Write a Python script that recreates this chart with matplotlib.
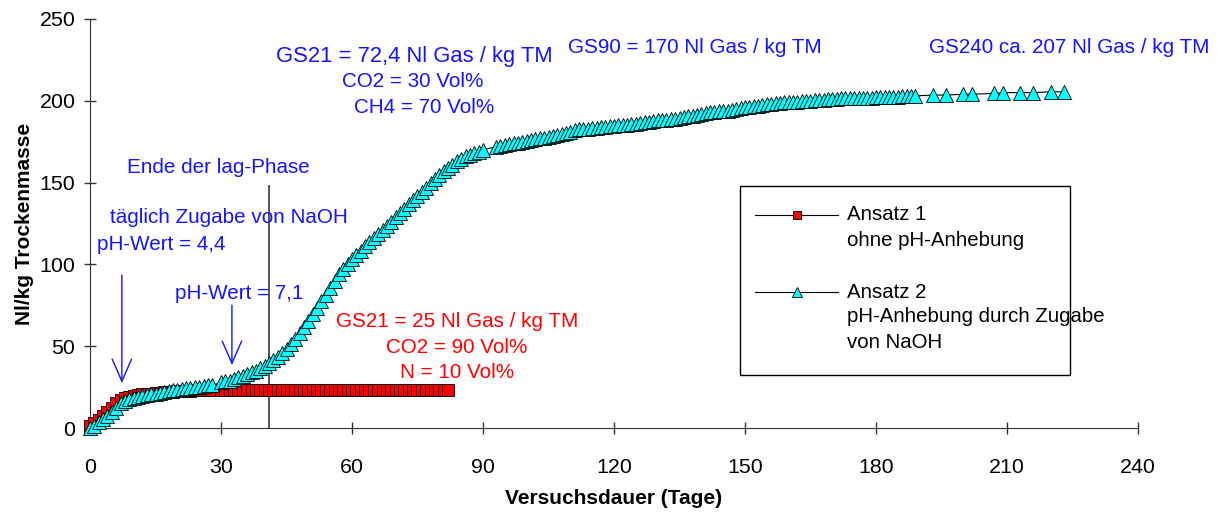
import matplotlib.pyplot as plt
from matplotlib.lines import Line2D
from matplotlib.patches import Rectangle

plt.rcParams['font.family'] = ['Liberation Sans', 'DejaVu Sans']

# Ansatz 1 (ohne pH-Anhebung)
ansatz1_days = list(range(0, 29)) + list(range(30, 83))
ansatz1_vals = [1, 3, 5, 7.5, 10, 12.5, 15, 17, 18.5, 19,
                19.5, 20, 20.5, 21, 21, 21.5, 21.5, 22, 22, 22,
                22.5, 22.5, 22.5, 22.5, 23, 23, 23, 23, 23,
                23.3, 23.3, 23.3, 23.3, 23.3, 23.3, 23.3, 23.3, 23.3, 23.3,
                23.3, 23.3, 23.3, 23.3, 23.3, 23.3, 23.3, 23.3, 23.3, 23.3,
                23.3, 23.3, 23.3, 23.3, 23.3, 23.3, 23.3, 23.3, 23.3, 23.3,
                23.3, 23.3, 23.3, 23.3, 23.3, 23.3, 23.3, 23.3, 23.3, 23.3,
                23.3, 23.3, 23.3, 23.3, 23.3, 23.3, 23.3, 23.3, 23.3, 23.3,
                23.3, 23.3, 23.3]

# Ansatz 2 (pH-Anhebung durch Zugabe von NaOH)
ansatz2_days = (list(range(0, 29)) + list(range(30, 91)) + list(range(93, 190))
                + [193, 196, 200, 202, 207, 209, 213, 216, 220, 223])
ansatz2_vals = [0, 1.5, 3.5, 5.5, 7.5, 10, 12.5, 15, 16.5, 17.5,
                18.5, 19, 19.5, 20, 20.5, 21, 21.5, 22, 22.5, 23,
                23.5, 24, 24.5, 24.5, 25, 25, 25.5, 26, 26,
                28, 28.5, 29, 30, 31, 32, 33, 34, 35, 36.5,
                38, 39.5, 41.5, 43.5, 46, 48.5, 51.5, 54.5, 58, 61.5,
                65.5, 69.5, 73.5, 77.5, 81.5, 85.5, 90, 94, 97, 100,
                103, 105.5, 108, 111, 113.5, 116, 118.5, 121, 123.5, 126,
                129, 131.5, 134, 137, 139.5, 142, 144.5, 147, 149.5, 152,
                154.5, 157, 159, 161, 163, 164.5, 166, 167, 168, 169,
                170,
                172, 172.5, 173, 173.5, 174, 174.5, 175, 175.5, 176, 176.5,
                177, 177.5, 178, 178.5, 179, 179.5, 180.5, 181, 182, 182.5,
                183, 183, 183.5, 183.5, 184, 184, 184.5, 184.5, 185, 185,
                185.5, 186, 186, 186.5, 187, 187, 187.5, 188, 188, 188.5,
                189, 189, 189.5, 190, 190.5, 191, 191.5, 192, 192.5, 193,
                193, 193.5, 193.5, 194, 194.5, 195, 195.5, 196, 196.5, 197,
                197, 197.5, 198, 198, 198.5, 198.5, 199, 199, 199.5, 199.5,
                200, 200, 200, 200.5, 200.5, 200.5, 201, 201, 201, 201.5,
                201.5, 201.5, 202, 202, 202, 202, 202, 202.5, 202.5, 202.5,
                202.5, 202.5, 202.5, 203, 203, 203, 203,
                203.5, 203.5, 204, 204, 204.5, 205, 205, 205, 205.5, 205.5]

x_ticks = [0, 30, 60, 90, 120, 150, 180, 210, 240]
y_ticks = [0, 50, 100, 150, 200, 250]

BLUE = '#1414ff'
RED = '#ff0000'
CYAN = '#00ffff'
FS = 14.9      # annotations
FS_BIG = 15.8  # GS21 line of Ansatz 2
FS_TICK = 15.4
FS_LAB = 15
FS_LEG = 14.7

fig = plt.figure(figsize=(12.25, 5.13), dpi=100)
ax = fig.add_axes([90 / 1225, 1 - 428 / 513, 1048 / 1225, 409 / 513])

ax.plot(ansatz1_days, ansatz1_vals, color='black', lw=0.8, marker='s', ms=8,
        mfc=RED, mec='black', mew=0.6, clip_on=False, zorder=3)
ax.plot(ansatz2_days, ansatz2_vals, color='black', lw=0.8, marker='^', ms=10.5,
        mfc=CYAN, mec='black', mew=0.6, clip_on=False, zorder=4)

# Ende der lag-Phase
ax.plot([41, 41], [0, 148], color='#555555', lw=1.4, zorder=2)

ax.set_xlim(0, 240)
ax.set_ylim(0, 250)
ax.set_xticks(x_ticks)
ax.set_yticks(y_ticks)
ax.spines['right'].set_visible(False)
ax.spines['top'].set_visible(False)
ax.spines['left'].set_color('#333333')
ax.spines['bottom'].set_color('#333333')
ax.tick_params(axis='both', direction='inout', length=9, width=1,
               color='#333333', labelsize=FS_TICK)
ax.tick_params(axis='x', pad=17)
ax.tick_params(axis='y', pad=6)

ax.set_xlabel('Versuchsdauer (Tage)', fontsize=FS_LAB, fontweight='bold', labelpad=9)
ax.set_ylabel('Nl/kg Trockenmasse', fontsize=FS_LAB, fontweight='bold', labelpad=4)

# blue annotations
ax.text(74.3, 226.8, 'GS21 = 72,4 Nl Gas / kg TM', color=BLUE, fontsize=FS_BIG,
        ha='center', va='center')
ax.text(74.0, 211.5, 'CO2 = 30 Vol%', color=BLUE, fontsize=FS,
        ha='center', va='center')
ax.text(76.5, 196.2, 'CH4 = 70 Vol%', color=BLUE, fontsize=FS,
        ha='center', va='center')
ax.text(138.5, 232.3, 'GS90 = 170 Nl Gas / kg TM', color=BLUE, fontsize=FS,
        ha='center', va='center')
ax.text(224.2, 232.3, 'GS240 ca. 207 Nl Gas / kg TM', color=BLUE, fontsize=FS,
        ha='center', va='center', clip_on=False)
ax.text(29.5, 159.5, 'Ende der lag-Phase', color=BLUE, fontsize=FS,
        ha='center', va='center')
ax.text(31.8, 128.4, 'täglich Zugabe von NaOH', color=BLUE, fontsize=FS,
        ha='center', va='center')
ax.text(1.6, 111.9, 'pH-Wert = 4,4', color=BLUE, fontsize=FS,
        ha='left', va='center')
ax.text(19.5, 82.5, 'pH-Wert = 7,1', color=BLUE, fontsize=FS,
        ha='left', va='center')

# red annotations
ax.text(84, 64.8, 'GS21 = 25 Nl Gas / kg TM', color=RED, fontsize=FS,
        ha='center', va='center')
ax.text(84, 49.5, 'CO2 = 90 Vol%', color=RED, fontsize=FS,
        ha='center', va='center')
ax.text(84, 34.2, 'N = 10 Vol%', color=RED, fontsize=FS,
        ha='center', va='center')

# arrows
arrow_style = dict(arrowstyle='->, head_length=1.6, head_width=0.7',
                   color=BLUE, lw=1, shrinkA=0, shrinkB=0)
ax.annotate('', xy=(7.3, 27.5), xytext=(7.3, 93.5), arrowprops=arrow_style)
ax.annotate('', xy=(32.5, 38.5), xytext=(32.5, 75), arrowprops=arrow_style)


# legend drawn by hand so the handle sits at the first text line
def fx(px):
    return px / 1225


def fy(py):
    return 1 - py / 513


fig.add_artist(Rectangle((fx(740), fy(375)), fx(1070) - fx(740), fy(186) - fy(375),
                         transform=fig.transFigure, fill=False,
                         edgecolor='black', lw=1))
fig.add_artist(Line2D([fx(755), fx(838)], [fy(215), fy(215)], color='black', lw=0.8,
                      transform=fig.transFigure))
fig.add_artist(Line2D([fx(797)], [fy(215)], marker='s', ms=6, mfc=RED,
                      mec='black', mew=0.6, transform=fig.transFigure))
fig.add_artist(Line2D([fx(755), fx(838)], [fy(292), fy(292)], color='black', lw=0.8,
                      transform=fig.transFigure))
fig.add_artist(Line2D([fx(797)], [fy(292)], marker='^', ms=7, mfc=CYAN,
                      mec='black', mew=0.6, transform=fig.transFigure))
legend_lines = [(215, 'Ansatz 1'), (240, 'ohne pH-Anhebung'),
                (292, 'Ansatz 2'), (317, 'pH-Anhebung durch Zugabe'),
                (343, 'von NaOH')]
for py, txt in legend_lines:
    fig.text(fx(847), fy(py), txt, fontsize=FS_LEG, ha='left', va='center')

fig.savefig('out.png', dpi=100)
